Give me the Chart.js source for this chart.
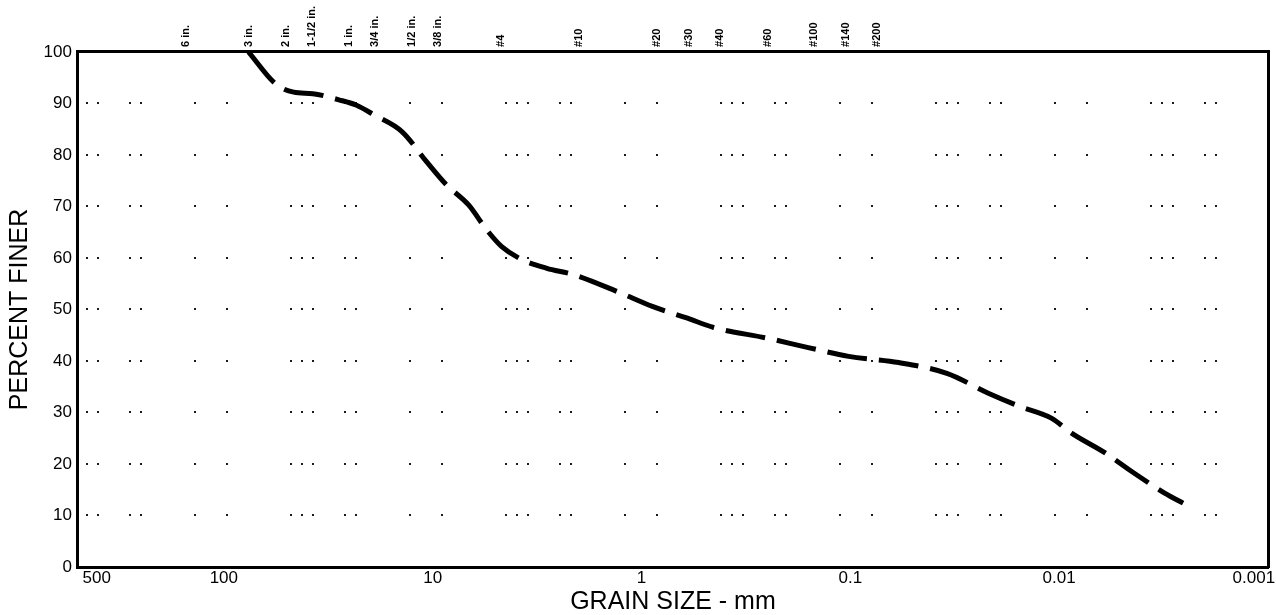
<!DOCTYPE html>
<html>
<head>
<meta charset="utf-8">
<script src="https://cdn.jsdelivr.net/npm/chart.js@4/dist/chart.umd.min.js"></script>
<style>
  html, body { margin: 0; padding: 0; background: #ffffff; }
  #wrap { width: 1276px; height: 615px; }
</style>
</head>
<body>
<div id="wrap"><canvas id="c" width="1276" height="615"></canvas></div>
<script>
// ---- data ----
const grainSize = [76.2, 56.5, 46.3, 37.5, 28.1, 23.3, 19.1, 14.0, 10.7, 8.59, 6.73, 5.52, 4.67, 3.74, 2.84, 2.13, 1.31, 0.887, 0.602, 0.451, 0.248, 0.159, 0.102, 0.0587, 0.0345, 0.0217, 0.0155, 0.0109, 0.00873, 0.00599, 0.00444, 0.00311, 0.00255];
const percentFiner = [100, 93.8, 92.2, 91.9, 90.7, 89.7, 87.8, 84.5, 78.7, 74.2, 70.3, 65.5, 62.2, 59.7, 58.0, 56.8, 53.5, 50.6, 48.3, 46.5, 44.4, 42.6, 40.9, 39.7, 37.6, 33.7, 31.2, 28.9, 26.0, 22.1, 18.4, 14.3, 12.4];

const sieveSizes = [152.4, 76.2, 50.8, 38.1, 25.4, 19.05, 12.7, 9.525, 4.75, 2.0, 0.85, 0.6, 0.425, 0.25, 0.15, 0.106, 0.075];
const sieveLabels = ['6 in.', '3 in.', '2 in.', '1-1/2 in.', '1 in.', '3/4 in.', '1/2 in.', '3/8 in.', '#4', '#10', '#20', '#30', '#40', '#60', '#100', '#140', '#200'];

const xTickValues = [500, 100, 10, 1, 0.1, 0.01, 0.001];
const xTickLabels = ['500', '100', '10', '1', '0.1', '0.01', '0.001'];
const yTickValues = [0, 10, 20, 30, 40, 50, 60, 70, 80, 90, 100];

const xTitle = 'GRAIN SIZE - mm';
const yTitle = 'PERCENT FINER';

// ---- helpers ----
function findIndex(arr, v) {
  for (let i = 0; i < arr.length; i++) {
    if (Math.abs(Math.log10(arr[i]) - Math.log10(v)) < 1e-6) return i;
  }
  return -1;
}
const FONT = "'Liberation Sans', Arial, sans-serif";

const points = grainSize.map((g, i) => ({ x: g, y: percentFiner[i] }));

new Chart(document.getElementById('c'), {
  type: 'line',
  data: {
    datasets: [{
      data: points,
      borderColor: '#000000',
      borderWidth: 5,
      borderDash: [40, 12],
      borderCapStyle: 'butt',
      pointRadius: 0,
      cubicInterpolationMode: 'monotone',
      fill: false
    }]
  },
  options: {
    responsive: false,
    animation: false,
    events: [],
    layout: { padding: { left: 6, right: 8, top: 1, bottom: 0 } },
    plugins: { legend: { display: false }, tooltip: { enabled: false } },
    scales: {
      x: {
        type: 'logarithmic',
        position: 'bottom',
        min: 0.001,
        max: 500,
        reverse: true,
        afterBuildTicks: (s) => {
          s.ticks = xTickValues.slice().sort((a, b) => a - b).map(v => ({ value: v }));
        },
        afterFit: (s) => { s.paddingLeft = 0; s.paddingRight = 0; },
        ticks: {
          autoSkip: false,
          maxRotation: 0,
          minRotation: 0,
          padding: 3,
          color: '#000',
          font: { family: FONT, size: 17, lineHeight: 1.0 },
          callback: (v) => {
            const i = findIndex(xTickValues, v);
            if (i < 0) return '';
            let t = xTickLabels[i];
            if (i === 0) t = '        ' + t;
            if (i === xTickValues.length - 1) t = t + '      ';
            return t;
          }
        },
        grid: { display: false, drawTicks: false },
        border: { display: true, color: '#000', width: 3 },
        title: {
          display: true,
          text: xTitle,
          color: '#000',
          font: { family: FONT, size: 25, lineHeight: 1.0 },
          padding: { top: 0, bottom: 0 }
        }
      },
      xTop: {
        type: 'logarithmic',
        position: 'top',
        min: 0.001,
        max: 500,
        reverse: true,
        afterBuildTicks: (s) => {
          s.ticks = sieveSizes.slice().sort((a, b) => a - b).map(v => ({ value: v }));
        },
        afterFit: (s) => { s.paddingLeft = 0; s.paddingRight = 0; },
        ticks: {
          autoSkip: false,
          minRotation: 90,
          maxRotation: 90,
          padding: 5,
          labelOffset: 14,
          color: '#000',
          font: { family: FONT, size: 11, weight: 'bold' },
          callback: (v) => {
            const i = findIndex(sieveSizes, v);
            return i < 0 ? '' : sieveLabels[i];
          }
        },
        grid: { display: false, drawTicks: false },
        border: { display: true, color: '#000', width: 3 }
      },
      y: {
        type: 'linear',
        position: 'left',
        min: 0,
        max: 100,
        afterBuildTicks: (s) => { s.ticks = yTickValues.map(v => ({ value: v })); },
        ticks: {
          padding: 6,
          color: '#000',
          font: { family: FONT, size: 17 },
          callback: (v) => String(v)
        },
        grid: {
          display: true,
          drawTicks: false,
          color: (ctx) => (ctx.tick && (ctx.tick.value === 0 || ctx.tick.value === 100)) ? 'rgba(0,0,0,0)' : '#1a1a1a',
          lineWidth: 2
        },
        border: { display: true, color: '#000', width: 3, dash: [2, 30, 2, 9, 2, 52, 2, 30, 2, 62, 2, 9, 2, 9], dashOffset: -18 },
        title: {
          display: true,
          text: yTitle,
          color: '#000',
          font: { family: FONT, size: 25, lineHeight: 1.1 },
          padding: { top: 0, bottom: 4 }
        }
      },
      yRight: {
        type: 'linear',
        position: 'right',
        min: 0,
        max: 100,
        ticks: { display: false },
        grid: { display: false, drawTicks: false },
        border: { display: true, color: '#000', width: 3 }
      }
    }
  }
});
</script>
</body>
</html>
